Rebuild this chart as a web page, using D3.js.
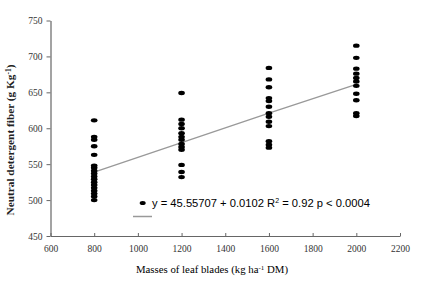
<!DOCTYPE html>
<html><head><meta charset="utf-8">
<script src="https://cdn.jsdelivr.net/npm/d3@7"></script>
<style>body{margin:0;background:#fff}</style>
</head><body>
<script>
const xTicks = [600, 800, 1000, 1200, 1400, 1600, 1800, 2000, 2200];
const yTicks = [450, 500, 550, 600, 650, 700, 750];
const masses = [800, 1200, 1600, 2000];
const fiber800 = [611, 588, 584, 575, 563, 548, 545, 541, 537, 533, 529, 525, 521, 517, 513, 509, 505, 500];
const fiber1200 = [649, 612, 606, 600, 593, 588, 584, 578, 574, 570, 549, 539, 532];
const fiber1600 = [684, 668, 657, 642, 638, 630, 621, 616, 609, 603, 582, 577, 573];
const fiber2000 = [715, 698, 683, 676, 670, 665, 659, 648, 639, 621, 617];
const fitX = [800, 1200, 1600, 2000];
const fitY = [539, 580, 621, 661];
const legendPoint = [1022, 496];
const equation = "y = 45.55707 + 0.0102 R";
const eqRest = " = 0.92 p < 0.0004";

const W = 424, H = 281;
const svg = d3.select("body").append("svg").attr("width", W).attr("height", H);
const x = d3.scaleLinear().domain([600, 2200]).range([50.5, 400]);
const y = d3.scaleLinear().domain([450, 750]).range([236, 20.5]);

// axes
const xa = svg.append("g").attr("transform", `translate(0,${y(450)})`)
  .call(d3.axisBottom(x).tickValues(xTicks).tickFormat(d3.format("d")).tickSizeInner(-3).tickSizeOuter(0).tickPadding(9));
const ya = svg.append("g").attr("transform", `translate(${x(600)},0)`)
  .call(d3.axisLeft(y).tickValues(yTicks).tickFormat(d3.format("d")).tickSizeInner(4).tickSizeOuter(0).tickPadding(4));
[xa, ya].forEach(a => {
  a.select(".domain").attr("stroke", "#666").attr("stroke-width", 1.2);
  a.selectAll(".tick line").attr("stroke", "#666");
  a.selectAll("text").attr("font-family", "Liberation Serif").attr("font-size", 9.5).attr("fill", "#333");
});

// fit line
svg.append("path")
  .attr("d", d3.line().x((d, i) => x(d)).y((d, i) => y(fitY[i]))(fitX))
  .attr("fill", "none").attr("stroke", "#999").attr("stroke-width", 1.3);

// points
const groups = [fiber800, fiber1200, fiber1600, fiber2000];
groups.forEach((vals, gi) => {
  svg.append("g").selectAll("ellipse").data(vals).join("ellipse")
    .attr("cx", x(masses[gi])).attr("cy", d => y(d))
    .attr("rx", 3.3).attr("ry", 2.2).attr("fill", "#000");
});

// legend
svg.append("ellipse").attr("cx", x(legendPoint[0])).attr("cy", y(legendPoint[1]))
  .attr("rx", 3).attr("ry", 2).attr("fill", "#000");
svg.append("line").attr("x1", 133).attr("x2", 152).attr("y1", 216.5).attr("y2", 216.5)
  .attr("stroke", "#999").attr("stroke-width", 1.5);
const t = svg.append("text").attr("x", 152).attr("y", 207)
  .attr("font-family", "Liberation Sans").attr("font-size", 11.2).attr("fill", "#000");
t.append("tspan").text(equation);
t.append("tspan").attr("dy", -4).attr("font-size", 7).text("2");
t.append("tspan").attr("dy", 4).text(eqRest);

// axis titles
const xt = svg.append("text").attr("x", 212).attr("y", 273).attr("text-anchor", "middle")
  .attr("font-family", "Liberation Serif").attr("font-size", 10.8).attr("fill", "#000");
xt.append("tspan").text("Masses of leaf blades (kg ha");
xt.append("tspan").attr("dy", -3.5).attr("font-size", 7).text("-1");
xt.append("tspan").attr("dy", 3.5).text(" DM)");

const yt = svg.append("text").attr("transform", "translate(14,140) rotate(-90)").attr("text-anchor", "middle")
  .attr("font-family", "Liberation Serif").attr("font-size", 11.3).attr("font-weight", "bold").attr("fill", "#222");
yt.append("tspan").text("Neutral detergent fiber (g Kg");
yt.append("tspan").attr("dy", -3.5).attr("font-size", 7.5).text("-1");
yt.append("tspan").attr("dy", 3.5).text(")");
</script>
</body></html>
